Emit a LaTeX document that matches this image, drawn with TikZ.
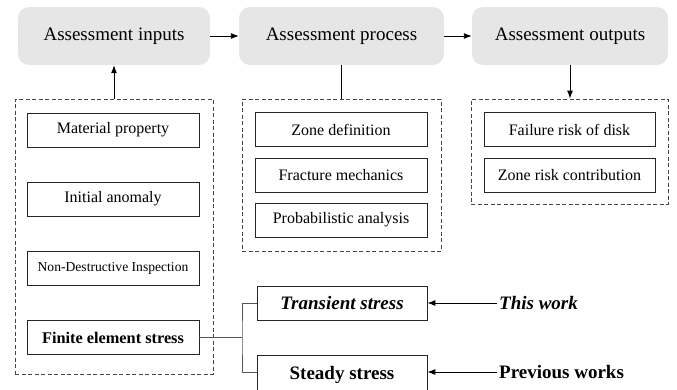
\documentclass[tikz,border=0pt]{standalone}
\usepackage{fontspec}
\setmainfont{LiberationSerif}[Extension=.ttf, UprightFont=*-Regular, BoldFont=*-Bold, ItalicFont=*-Italic, BoldItalicFont=*-BoldItalic]
\usetikzlibrary{arrows.meta}
\definecolor{topfill}{HTML}{E6E6E6}
\definecolor{dashgray}{HTML}{444444}
\definecolor{linkgray}{HTML}{555555}
\tikzset{
  topbox/.style={fill=topfill, rounded corners=11pt, minimum height=58pt, inner sep=0pt, font=\fontsize{19}{22}\selectfont},
  group/.style={draw=dashgray, dash pattern=on 4pt off 2.5pt, line width=0.8pt, inner sep=0pt},
  itembox/.style={draw=black!85, line width=0.8pt, minimum height=34pt, inner sep=0pt, font=\fontsize{16}{19}\selectfont},
  bigbox/.style={draw=black!85, line width=0.8pt, minimum height=34pt, minimum width=170pt, inner sep=0pt, font=\fontsize{19}{22}\selectfont\bfseries},
  arr/.style={-{Latex[length=8pt,width=6pt]}, line width=0.9pt, draw=black},
  link/.style={draw=linkgray, line width=1pt},
  note/.style={anchor=west, inner sep=2pt, font=\fontsize{19}{22}\selectfont\bfseries}
}
\begin{document}
\begin{tikzpicture}[x=1pt,y=-1pt]
\useasboundingbox (0,0) rectangle (677,389);
% top boxes
\node[topbox, minimum width=192pt] (in) at (114,36) {Assessment inputs};
\node[topbox, minimum width=205pt] (pr) at (341.5,36) {Assessment process};
\node[topbox, minimum width=196pt] (out) at (570,36) {Assessment outputs};
% dashed groups
\node[group, minimum width=198pt, minimum height=275pt] (g1) at (114,236.5) {};
\node[group, minimum width=199pt, minimum height=152pt] (g2) at (341.5,175) {};
\node[group, minimum width=197pt, minimum height=105pt] (g3) at (569.5,151.5) {};
% left items
\node[itembox, minimum width=172pt] (mp) at (113,130) {Material property};
\node[itembox, minimum width=172pt] (ia) at (113,199) {Initial anomaly};
\node[itembox, minimum width=172pt, font=\fontsize{13.6}{16}\selectfont] (ndi) at (113,268) {Non-Destructive Inspection};
\node[itembox, minimum width=172pt, font=\fontsize{16.3}{19}\selectfont\bfseries] (fe) at (113,337.5) {Finite element stress};
% middle items
\node[itembox, minimum width=172pt] (zd) at (341,129.5) {Zone definition};
\node[itembox, minimum width=172pt] (fm) at (341,175.5) {Fracture mechanics};
\node[itembox, minimum width=172pt] (pa) at (341,220) {Probabilistic analysis};
% right items
\node[itembox, minimum width=171pt] (fr) at (569.5,129.5) {Failure risk of disk};
\node[itembox, minimum width=171pt] (zr) at (569.5,175.5) {Zone risk contribution};
% stress boxes
\node[bigbox] (tr) at (342,303) {\itshape Transient stress};
\node[bigbox, minimum height=40pt, anchor=north] (st) at (342,355) {\raisebox{3pt}{Steady stress}};
\node[note] (tw) at (497,303) {\itshape This work};
\node[note] (pw) at (497,372) {Previous works};
% connectors
\draw[arr] (in.east) -- (pr.west);
\draw[arr] (pr.east) -- (out.west);
\draw[arr] (g1.north -| in.south) -- (in.south);
\draw[line width=0.9pt] (pr.south) -- (g2.north -| pr.south);
\draw[arr] (out.south) -- (g3.north -| out.south);
\coordinate (j) at (242,337.5);
\draw[link] (fe.east) -- (j);
\draw[link] (tr.west) -| (j) |- (st.west |- pw.west);
\draw[arr] (tw.west) -- (tr.east);
\draw[arr] (pw.west) -- (st.east |- pw.west);
\end{tikzpicture}
\end{document}
